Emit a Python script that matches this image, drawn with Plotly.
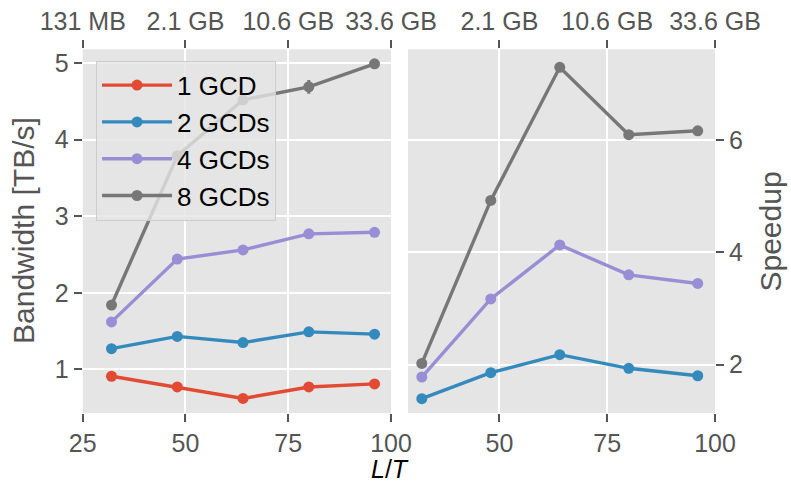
import plotly.graph_objects as go

# Lattice extent L/T and the memory footprint at the top-axis ticks
lt = [32, 48, 64, 80, 96]
top_tick_vals = [25, 50, 75, 100]
top_tick_text = ["131 MB", "2.1 GB", "10.6 GB", "33.6 GB"]

# Measured bandwidth [TB/s] and its uncertainty, per GCD count
bw_1 = [0.91, 0.77, 0.62, 0.77, 0.81]
bw_2 = [1.27, 1.43, 1.35, 1.49, 1.46]
bw_4 = [1.62, 2.44, 2.56, 2.77, 2.79]
bw_8 = [1.84, 3.79, 4.52, 4.69, 4.99]
err_1 = [0.01, 0.01, 0.01, 0.01, 0.01]
err_2 = [0.01, 0.01, 0.01, 0.01, 0.01]
err_4 = [0.01, 0.01, 0.01, 0.01, 0.01]
err_8 = [0.01, 0.02, 0.02, 0.09, 0.01]

labels = ["1 GCD", "2 GCDs", "4 GCDs", "8 GCDs"]
colors = ["#E24A33", "#348ABD", "#988ED5", "#777777"]
series = [bw_1, bw_2, bw_4, bw_8]
errors = [err_1, err_2, err_4, err_8]

FONT = "Liberation Sans, Arial, Helvetica, sans-serif"
TICK_COLOR = "#555555"
PANEL_BG = "#E5E5E5"

fig = go.Figure()

# Left panel: bandwidth
for lab, col, ys, es in zip(labels, colors, series, errors):
    fig.add_trace(go.Scatter(
        x=lt, y=ys, name=lab, mode="lines+markers",
        line=dict(color=col, width=3.4),
        marker=dict(color=col, size=11),
        error_y=dict(type="data", array=es, visible=True, color=col,
                     thickness=3, width=0),
        xaxis="x", yaxis="y",
    ))

# Right panel: speedup relative to a single GCD
for lab, col, ys in zip(labels[1:], colors[1:], series[1:]):
    speedup = [b / b1 for b, b1 in zip(ys, bw_1)]
    fig.add_trace(go.Scatter(
        x=lt, y=speedup, name=lab, mode="lines+markers",
        line=dict(color=col, width=3.4),
        marker=dict(color=col, size=11),
        xaxis="x2", yaxis="y2", showlegend=False,
    ))

# Empty traces so the top (memory) axes are drawn
fig.add_trace(go.Scatter(x=[], y=[], xaxis="x3", yaxis="y", showlegend=False))
fig.add_trace(go.Scatter(x=[], y=[], xaxis="x4", yaxis="y2", showlegend=False))

tick_font = dict(family=FONT, size=25, color=TICK_COLOR)
common = dict(showgrid=True, gridcolor="white", gridwidth=2, zeroline=False,
              ticks="outside", ticklen=8, tickwidth=1.5, tickcolor=TICK_COLOR,
              tickfont=tick_font, showline=False, automargin=False)
top_common = dict(showgrid=False, zeroline=False, ticks="outside", ticklen=8,
                  tickwidth=1.5, tickcolor=TICK_COLOR, tickfont=tick_font,
                  automargin=False, tickvals=top_tick_vals,
                  ticktext=top_tick_text)

xl = [0.1046, 0.4943]
xr = [0.5158, 0.9039]
yd = [0.1467, 0.8981]

fig.update_layout(
    width=791, height=484,
    margin=dict(l=0, r=0, t=0, b=0),
    paper_bgcolor="white",
    plot_bgcolor=PANEL_BG,
    font=dict(family=FONT),
    xaxis=dict(domain=xl, anchor="y", range=[25, 100],
               tickvals=[25, 50, 75, 100], **common),
    yaxis=dict(domain=yd, anchor="x", range=[0.43, 5.18],
               tickvals=[1, 2, 3, 4, 5], **common),
    xaxis2=dict(domain=xr, anchor="y2", range=[28.8, 100],
                tickvals=[50, 75, 100], **common),
    yaxis2=dict(domain=yd, anchor="x2", side="right", range=[1.14, 7.61],
                tickvals=[2, 4, 6], **common),
    xaxis3=dict(overlaying="x", side="top", anchor="y", range=[25, 100],
                **top_common),
    xaxis4=dict(overlaying="x2", side="top", anchor="y2", range=[28.8, 100],
                **top_common),
    legend=dict(x=0.1214, y=0.8746, xanchor="left", yanchor="top",
                bgcolor="rgba(229,229,229,0.8)", bordercolor="#CCCCCC",
                borderwidth=1, font=dict(family=FONT, size=26, color="black"),
                itemwidth=70, tracegroupgap=0),
    showlegend=True,
    annotations=[
        dict(text="Bandwidth [TB/s]", x=0.0303, y=0.5248, xref="paper",
             yref="paper", xanchor="center", yanchor="middle",
             showarrow=False, textangle=-90,
             font=dict(family=FONT, size=30, color=TICK_COLOR)),
        dict(text="Speedup", x=0.9735, y=0.5217, xref="paper", yref="paper",
             xanchor="center", yanchor="middle",
             showarrow=False, textangle=-90,
             font=dict(family=FONT, size=30, color=TICK_COLOR)),
        dict(text="<i>L</i>/<i>T</i>", x=0.493, y=0.0, xref="paper",
             yref="paper", xanchor="center", yanchor="bottom",
             showarrow=False, borderpad=0,
             font=dict(family=FONT, size=25, color="black")),
    ],
)

fig.write_html("out.html")
